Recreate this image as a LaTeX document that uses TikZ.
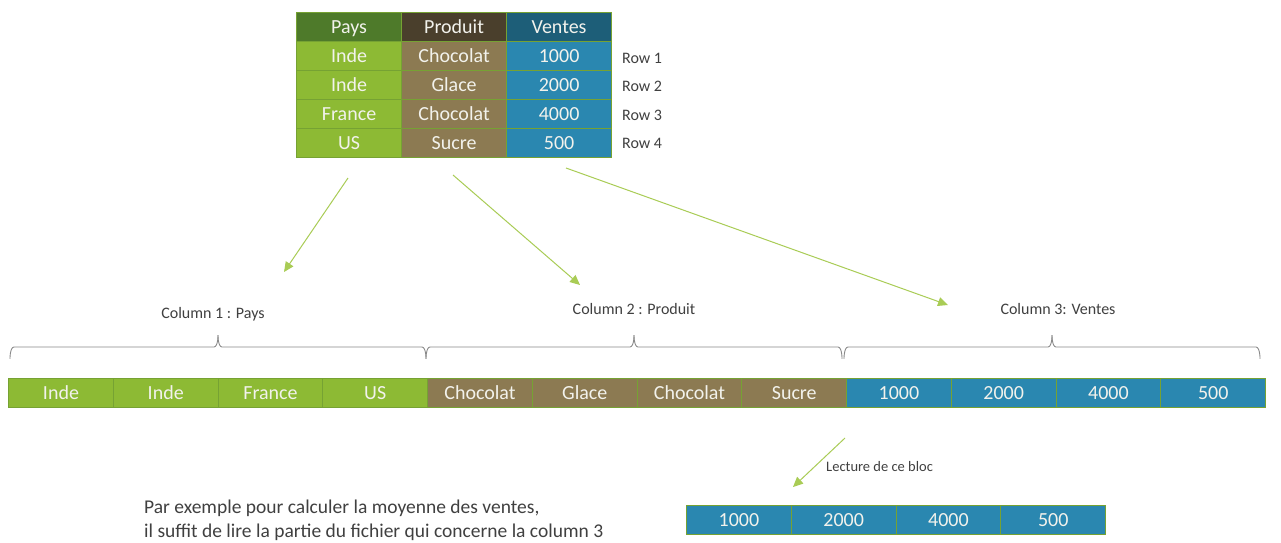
\documentclass[tikz,border=0pt]{standalone}
\usepackage{fontspec}
\setmainfont{Carlito}
\usetikzlibrary{arrows.meta}
\definecolor{hgreen}{HTML}{4E7A2A}
\definecolor{hbrown}{HTML}{4A3F2C}
\definecolor{hblue}{HTML}{1D5E78}
\definecolor{cgreen}{HTML}{8DBA34}
\definecolor{cbrown}{HTML}{8C7A52}
\definecolor{cblue}{HTML}{2A87B0}
\definecolor{edge}{HTML}{76A233}
\definecolor{arr}{HTML}{A9CC55}
\definecolor{brc}{HTML}{8A8A8A}
\definecolor{txt}{HTML}{404040}
\definecolor{ctxt}{HTML}{F2F2EC}
\tikzset{
  tcell/.style={anchor=north west, inner sep=0pt, minimum width=105pt, minimum height=29pt,
     text height=16pt, text depth=3pt,
     draw=edge, line width=1.2pt, text=ctxt, font=\fontsize{20}{20}\selectfont},
  bcell/.style={anchor=north west, inner sep=0pt, minimum width=104.75pt, minimum height=29pt,
     text height=16pt, text depth=3pt,
     draw=edge, line width=1.2pt, text=ctxt, font=\fontsize{20}{20}\selectfont},
  lbl/.style={text=txt, font=\fontsize{16}{16}\selectfont, inner sep=0pt},
  garrow/.style={draw=arr, line width=1pt, -{Triangle[length=10pt,width=9pt]}},
  brace/.style={draw=brc, line width=0.9pt},
}
\begin{document}
\begin{tikzpicture}[x=1pt,y=-1pt]
\useasboundingbox[fill=white] (0,0) rectangle (1281,542);
% table
\node[tcell, fill=hgreen] (h1) at (296,12) {Pays};
\node[tcell, fill=hbrown] (h2) at (401,12) {Produit};
\node[tcell, fill=hblue]  (h3) at (506,12) {Ventes};
\node[tcell, fill=cgreen] (a1) at (296,41) {Inde};
\node[tcell, fill=cbrown] (b1) at (401,41) {Chocolat};
\node[tcell, fill=cblue]  (c1) at (506,41) {1000};
\node[tcell, fill=cgreen] (a2) at (296,70) {Inde};
\node[tcell, fill=cbrown] (b2) at (401,70) {Glace};
\node[tcell, fill=cblue]  (c2) at (506,70) {2000};
\node[tcell, fill=cgreen] (a3) at (296,99) {France};
\node[tcell, fill=cbrown] (b3) at (401,99) {Chocolat};
\node[tcell, fill=cblue]  (c3) at (506,99) {4000};
\node[tcell, fill=cgreen] (a4) at (296,128) {US};
\node[tcell, fill=cbrown] (b4) at (401,128) {Sucre};
\node[tcell, fill=cblue]  (c4) at (506,128) {500};
\node[lbl, anchor=west] (r1) at (622,58) {Row 1};
\node[lbl, anchor=west] (r2) at (622,86) {Row 2};
\node[lbl, anchor=west] (r3) at (622,115) {Row 3};
\node[lbl, anchor=west] (r4) at (622,143) {Row 4};
% arrows from table
\coordinate (s1) at (348,178);
\coordinate (e1) at (284,272);
\coordinate (s2) at (453,175);
\coordinate (e2) at (580,285);
\coordinate (s3) at (566,168);
\coordinate (e3) at (948,305);
\draw[garrow] (s1) -- (e1);
\draw[garrow] (s2) -- (e2);
\draw[garrow] (s3) -- (e3);
% column labels
\node[lbl] (col1) at (213,314) {Column 1 : Pays};
\node[lbl] (col2) at (634,309) {Column 2 : Produit};
\node[lbl] (col3) at (1058,309) {Column 3: Ventes};
% braces
\foreach \a/\m/\b in {10/218/426, 426/634/842, 844/1052/1260}{
  \draw[brace] (\a,358) to[out=-90,in=180] (\a+4,347) -- (\m-4,347) to[out=0,in=90] (\m,336);
  \draw[brace] (\m,336) to[out=90,in=180] (\m+4,347) -- (\b-4,347) to[out=0,in=-90] (\b,358);
}
% long bar
\node[bcell, fill=cgreen] (p1) at (8,378) {Inde};
\node[bcell, fill=cgreen] (p2) at (112.75,378) {Inde};
\node[bcell, fill=cgreen] (p3) at (217.5,378) {France};
\node[bcell, fill=cgreen] (p4) at (322.25,378) {US};
\node[bcell, fill=cbrown] (q1) at (427,378) {Chocolat};
\node[bcell, fill=cbrown] (q2) at (531.75,378) {Glace};
\node[bcell, fill=cbrown] (q3) at (636.5,378) {Chocolat};
\node[bcell, fill=cbrown] (q4) at (741.25,378) {Sucre};
\node[bcell, fill=cblue] (v1) at (846,378) {1000};
\node[bcell, fill=cblue] (v2) at (950.75,378) {2000};
\node[bcell, fill=cblue] (v3) at (1055.5,378) {4000};
\node[bcell, fill=cblue] (v4) at (1160.25,378) {500};
% reading arrow
\coordinate (s4) at (845,438);
\coordinate (e4) at (793,487);
\draw[garrow] (s4) -- (e4);
\node[lbl, anchor=west, font=\fontsize{14.5}{14.5}\selectfont] (lect) at (826,467) {Lecture de ce bloc};
% bottom block
\node[bcell, fill=cblue] (w1) at (686,505) {1000};
\node[bcell, fill=cblue] (w2) at (790.75,505) {2000};
\node[bcell, fill=cblue] (w3) at (895.5,505) {4000};
\node[bcell, fill=cblue] (w4) at (1000.25,505) {500};
% explanation
\node[lbl, anchor=north west, align=left, font=\fontsize{19.5}{24}\selectfont] (expl) at (144,500)
  {Par exemple pour calculer la moyenne des ventes,\\il suffit de lire la partie du fichier qui concerne la column 3};
\end{tikzpicture}
\end{document}
